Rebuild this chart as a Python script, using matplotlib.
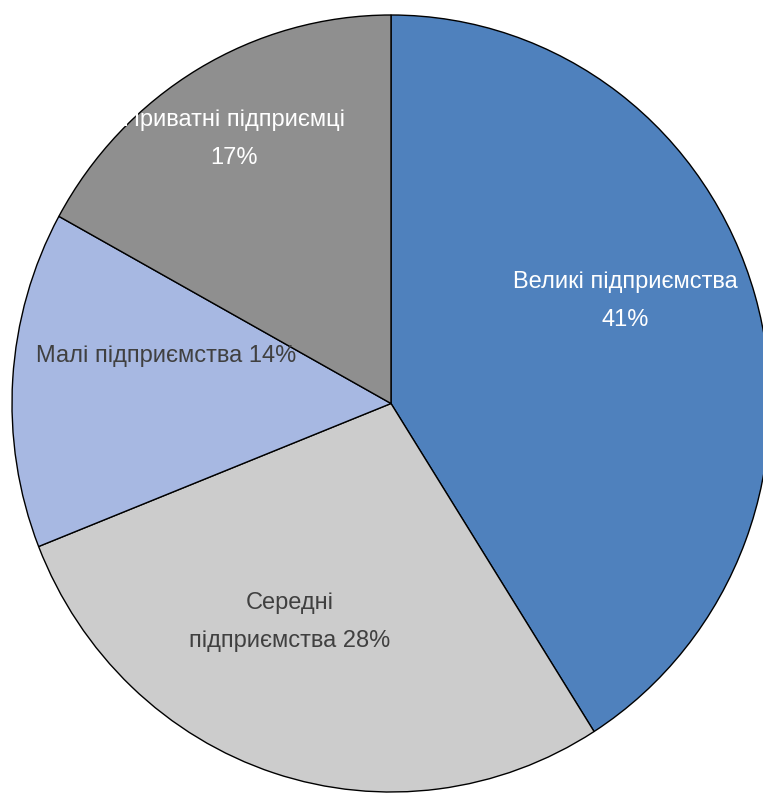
import matplotlib
matplotlib.use("Agg")
import matplotlib.pyplot as plt

categories = ["Великі підприємства", "Середні підприємства", "Малі підприємства", "Приватні підприємці"]
values = [41, 28, 14, 17]
colors = ["#4F81BD", "#CCCCCC", "#A7B8E2", "#8F8F8F"]
label_texts = ["Великі підприємства\n41%", "Середні\nпідприємства 28%", "Малі підприємства 14%", "Приватні підприємці\n17%"]
label_colors = ["white", "#404040", "#404040", "white"]
# label centers in pixel coords (x, y from top)
label_pos = [(625, 301), (290, 622), (166, 356), (234, 139)]

W, H = 763, 793
fig = plt.figure(figsize=(W / 100, H / 100), dpi=100)
cx, cy, rx, ry = 391, 403.5, 379, 388.5
ax = fig.add_axes([(cx - rx) / W, (H - cy - ry) / H, 2 * rx / W, 2 * ry / H])
ax.pie(values, colors=colors, startangle=90, counterclock=False,
       wedgeprops=dict(edgecolor="black", linewidth=1.0), radius=1)
ax.set_xlim(-1, 1)
ax.set_ylim(-1, 1)
ax.set_aspect("auto")
ax.axis("off")
for wedge in ax.patches:
    wedge.set_clip_on(False)

for t, c, (px, py) in zip(label_texts, label_colors, label_pos):
    fig.text(px / W, 1 - py / H, t, color=c, ha="center", va="center",
             fontsize=17, family="Liberation Sans", linespacing=1.9)

fig.savefig("out.png", dpi=100)
